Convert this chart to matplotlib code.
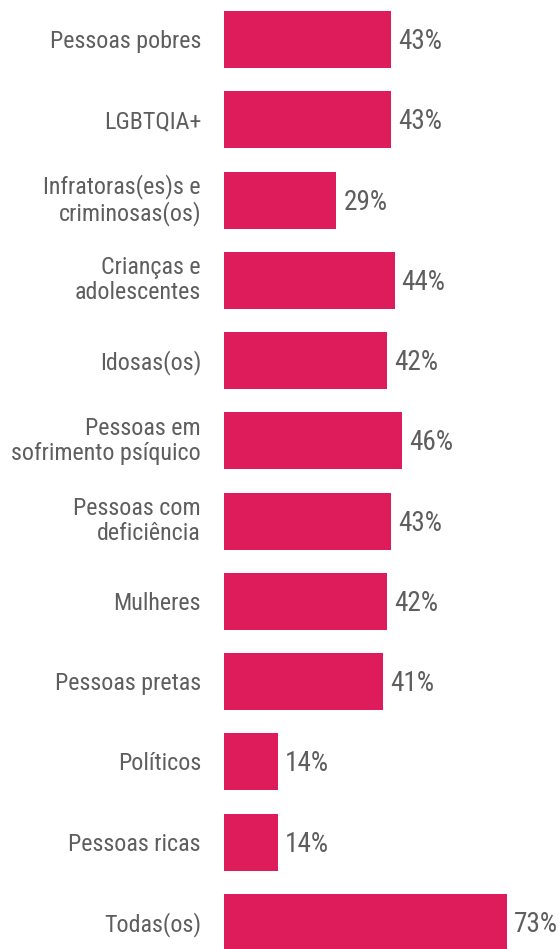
import matplotlib
matplotlib.use("Agg")
import matplotlib.pyplot as plt
from matplotlib import font_manager as fm

categories = ["Pessoas pobres", "LGBTQIA+", "Infratoras(es)s e\ncriminosas(os)",
              "Crianças e\nadolescentes", "Idosas(os)", "Pessoas em\nsofrimento psíquico",
              "Pessoas com\ndeficiência", "Mulheres", "Pessoas pretas", "Políticos",
              "Pessoas ricas", "Todas(os)"]
values = [43, 43, 29, 44, 42, 46, 43, 42, 41, 14, 14, 73]
value_labels = [f"{v}%" for v in values]

names = {f.name for f in fm.fontManager.ttflist}
fam = ["Roboto Condensed", "Roboto", "DejaVu Sans"]
fam = [f for f in fam if f in names] + ["DejaVu Sans"]
plt.rcParams['font.family'] = fam

W, H, DPI = 559, 949, 100
fig = plt.figure(figsize=(W / DPI, H / DPI), dpi=DPI)
ax = fig.add_axes([224 / W, 0, 1 - 224 / W, 1])
color = "#DF1C5B"
tc = "#5e5e5e"
ys = list(range(len(values)))
ax.barh(ys, values, height=0.71, color=color)
ax.set_xlim(0, 86.4)
ax.set_ylim(11.33, -0.492)
ax.axis("off")
for y, v, lab in zip(ys, values, value_labels):
    ax.annotate(lab, xy=(v, y), xycoords="data", xytext=(7, -2), textcoords="offset pixels",
                va="center", ha="left", fontsize=19.6, color=tc,
                annotation_clip=False)
for y, c in zip(ys, categories):
    off = -2 if "\n" not in c else 0
    ax.annotate(c, xy=(0, y), xycoords="data", xytext=(-23, off), textcoords="offset pixels",
                ha="right", va="center", fontsize=17.3, color=tc, linespacing=1.1,
                annotation_clip=False, multialignment="right")
fig.savefig("out.png", dpi=DPI)
